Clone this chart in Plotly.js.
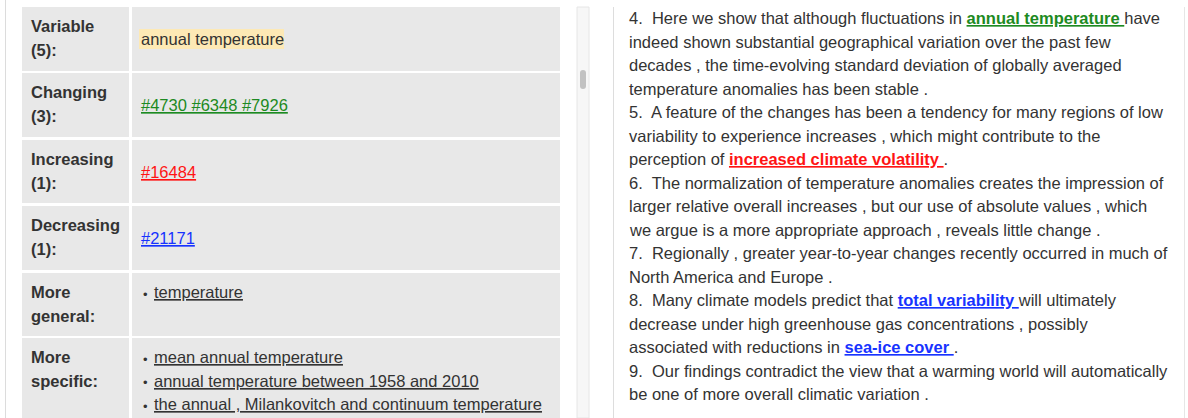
<!DOCTYPE html>
<html>
<head>
<meta charset="utf-8">
<script src="https://cdn.plot.ly/plotly-3.0.1.min.js"></script>
<style>html,body{margin:0;padding:0;background:#fff;}#chart{width:1188px;height:418px;}</style>
</head>
<body>
<div id="chart"></div>
<script>
// ---- content ----
var rowLabels = [["Variable", "(5):"], ["Changing", "(3):"], ["Increasing", "(1):"], ["Decreasing", "(1):"], ["More", "general:"], ["More", "specific:"]];
var rowKinds = ["highlight", "green", "red", "blue", "list", "list"];
var rowValues = [
  ["annual temperature"],
  ["#4730 #6348 #7926"],
  ["#16484"],
  ["#21171"],
  ["temperature"],
  ["mean annual temperature", "annual temperature between 1958 and 2010", "the annual , Milankovitch and continuum temperature"]
];
// rows: [top, bottom] in page pixels
var rowTops = [7, 73, 140, 206, 273, 338];
var rowBottoms = [71, 137, 203, 270, 336, 430];

// right-hand sentences; segments: [text, style] style: '', 'g', 'r', 'b'
var sentenceLines = [
  [["4.\u00a0 Here we show that although fluctuations in ", ""], ["annual temperature ", "g"], ["have", ""]],
  [["indeed shown substantial geographical variation over the past few", ""]],
  [["decades , the time-evolving standard deviation of globally averaged", ""]],
  [["temperature anomalies has been stable .", ""]],
  [["5.\u00a0 A feature of the changes has been a tendency for many regions of low", ""]],
  [["variability to experience increases , which might contribute to the", ""]],
  [["perception of ", ""], ["increased climate volatility ", "r"], [".", ""]],
  [["6.\u00a0 The normalization of temperature anomalies creates the impression of", ""]],
  [["larger relative overall increases , but our use of absolute values , which", ""]],
  [["we argue is a more appropriate approach , reveals little change .", ""]],
  [["7.\u00a0 Regionally , greater year-to-year changes recently occurred in much of", ""]],
  [["North America and Europe .", ""]],
  [["8.\u00a0 Many climate models predict that ", ""], ["total variability ", "b"], ["will ultimately", ""]],
  [["decrease under high greenhouse gas concentrations , possibly", ""]],
  [["associated with reductions in ", ""], ["sea-ice cover ", "b"], [".", ""]],
  [["9.\u00a0 Our findings contradict the view that a warming world will automatically", ""]],
  [["be one of more overall climatic variation .", ""]]
];

// ---- styling ----
var FONT = "'Liberation Sans', Arial, Helvetica, sans-serif";
var FS = 16.5;
var TXT = "#333333";
var COLS = {g: "#1d8a22", r: "#ff1414", b: "#1733ff"};

var shapes = [];
var ann = [];

function rect(x0, y0, x1, y1, fill, line) {
  shapes.push({type: "rect", xref: "x", yref: "y", x0: x0, x1: x1, y0: y0, y1: y1,
    fillcolor: fill, line: line || {width: 0}, layer: "below"});
}
function vline(x, y0, y1, color) {
  shapes.push({type: "line", xref: "x", yref: "y", x0: x, x1: x, y0: y0, y1: y1,
    line: {color: color, width: 1}, layer: "below"});
}
function txt(x, y, text, opts) {
  opts = opts || {};
  ann.push({xref: "x", yref: "y", x: x, y: y, text: text, showarrow: false,
    xanchor: "left", yanchor: "middle", align: "left", borderpad: 0,
    font: {family: FONT, size: opts.size || FS, color: opts.color || TXT}});
}

// left panel border
vline(5.5, 0, 418, "#dcdcdc");
// scrollbar
rect(577, 7, 589, 418, "#f7f7f7", {width: 1, color: "#e6e6e6"});
shapes.push({type: "path", xref: "x", yref: "y",
  path: "M580,73 Q580,70 583,70 Q586,70 586,73 L586,86 Q586,89 583,89 Q580,89 580,86 Z",
  fillcolor: "#c2c2c2", line: {width: 0}});
// right panel borders
vline(613.5, 7, 418, "#dddddd");
vline(1184.5, 7, 418, "#e6e6e6");

// table cells
for (var i = 0; i < rowLabels.length; i++) {
  var t = rowTops[i], b = rowBottoms[i];
  rect(22, t, 129, b, "#e8e8e8");
  rect(132, t, 560, b, "#e8e8e8");
  var cy = (t + b) / 2;
  var l1 = t + 19, l2 = t + 43;
  txt(30, l1, "<b>" + rowLabels[i][0] + "</b>");
  txt(30, l2, "<b>" + rowLabels[i][1] + "</b>");
  var kind = rowKinds[i];
  if (kind === "highlight") {
    rect(139, cy - 10, 284, cy + 10, "#fde9b5");
    txt(140, cy, rowValues[i][0]);
  } else if (kind === "green" || kind === "red" || kind === "blue") {
    var c = COLS[kind[0]];
    txt(140, cy, '<span style="text-decoration:underline">' + rowValues[i][0] + '</span>', {color: c});
  } else {
    for (var k = 0; k < rowValues[i].length; k++) {
      var yy = l1 + k * 23.5;
      txt(142, yy + 2, "\u2022", {size: 13});
      txt(153, yy, '<span style="text-decoration:underline">' + rowValues[i][k] + '</span>');
    }
  }
}

// right text
for (var j = 0; j < sentenceLines.length; j++) {
  var segs = sentenceLines[j], html = "";
  segs.forEach(function (s) {
    if (s[1]) html += '<span style="color:' + COLS[s[1]] + ';text-decoration:underline"><b>' + s[0] + '</b></span>';
    else html += s[0];
  });
  txt(628, 18 + j * 23.5, html);
}

var data = [{type: "scatter", x: [0, 1188], y: [0, 418], mode: "markers",
  marker: {opacity: 0}, hoverinfo: "skip", showlegend: false}];

var layout = {
  width: 1188, height: 418,
  margin: {l: 0, r: 0, t: 0, b: 0},
  paper_bgcolor: "#ffffff", plot_bgcolor: "#ffffff",
  xaxis: {range: [0, 1188], visible: false, fixedrange: true},
  yaxis: {range: [418, 0], visible: false, fixedrange: true},
  shapes: shapes, annotations: ann, showlegend: false
};
Plotly.newPlot("chart", data, layout, {displayModeBar: false, staticPlot: true});
</script>
</body>
</html>
